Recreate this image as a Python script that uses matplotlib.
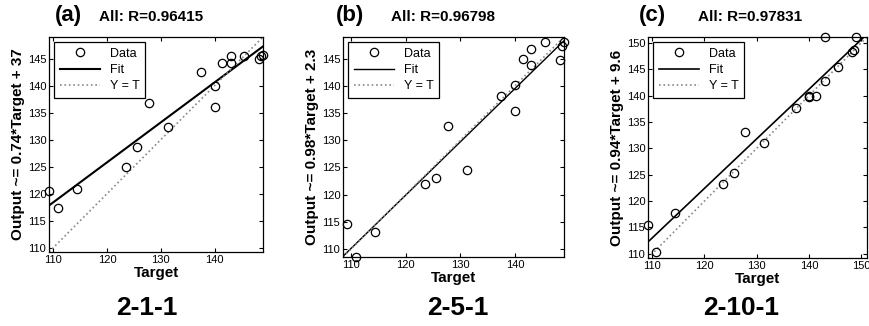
import numpy as np
import matplotlib
matplotlib.use("Agg")
import matplotlib.pyplot as plt

plt.rcParams['font.family'] = ['Liberation Sans', 'DejaVu Sans']

# targets (same for all three networks)
target = [109.2, 110.8, 114.4, 123.5, 125.6, 127.8, 131.3, 137.5, 140.0, 140.0,
          141.4, 143.0, 143.0, 145.5, 148.2, 148.7, 149.0]

# network outputs for each structure
out_a = [120.4, 117.4, 120.8, 125.0, 128.6, 136.8, 132.3, 142.5, 140.0, 136.0,
         144.2, 144.2, 145.5, 145.5, 145.0, 145.5, 145.6]
out_b = [114.6, 108.5, 113.1, 121.9, 123.1, 132.6, 124.5, 138.1, 140.2, 135.4,
         145.0, 146.7, 143.8, 148.0, 144.8, 147.3, 148.1]
out_c = [115.5, 110.4, 117.7, 123.3, 125.4, 133.1, 131.0, 137.6, 140.0, 139.8,
         140.0, 142.8, 151.1, 145.4, 148.3, 148.7, 151.1]

outputs = [out_a, out_b, out_c]
slopes = [0.74, 0.98, 0.94]
intercepts = [37, 2.3, 9.6]
r_values = ["0.96415", "0.96798", "0.97831"]
letters = ["(a)", "(b)", "(c)"]
structures = ["2-1-1", "2-5-1", "2-10-1"]

fig = plt.figure(figsize=(8.69, 3.26), dpi=100)
W, H = 869.0, 326.0

# axes boxes in pixels: left, right, top, bottom
boxes = [(49, 263, 37, 252), (343, 564, 37, 257), (648, 867, 37, 258)]
# text centres in pixels
letter_x = [68, 350, 652]
title_x = [151, 443, 750]
struct_x = [147, 458, 741]
fit_lw = [1.5, 1.0, 1.2]

for i in range(3):
    l, r, t, b = boxes[i]
    ax = fig.add_axes([l / W, 1 - b / H, (r - l) / W, (b - t) / H])
    T = np.array(target)
    Y = np.array(outputs[i])
    lo = min(T.min(), Y.min())
    hi = max(T.max(), Y.max())
    lim = np.array([lo, hi])

    ax.plot(T, Y, 'o', mfc='none', mec='black', ms=6, mew=0.9,
            label='Data', clip_on=False, zorder=3)
    ax.plot(lim, slopes[i] * lim + intercepts[i], '-', color='black',
            lw=fit_lw[i], label='Fit')
    ax.plot(lim, lim, ':', color='#888888', lw=1.2, label='Y = T')

    ax.set_xlim(lo, hi)
    ax.set_ylim(lo, hi)
    ax.set_xticks(np.arange(110, hi + 0.01, 10))
    ax.set_yticks(np.arange(110, hi + 0.01, 5))
    ax.tick_params(direction='in', top=True, right=True, labelsize=8,
                   length=3, pad=2)
    for s in ax.spines.values():
        s.set_linewidth(0.9)

    ax.set_xlabel('Target', fontsize=11, fontweight='bold', labelpad=1)
    ax.set_ylabel('Output ~= %s*Target + %s' % (slopes[i], intercepts[i]),
                  fontsize=11, fontweight='bold', labelpad=2)

    leg = ax.legend(loc='upper left', fontsize=9, handlelength=3.2,
                    fancybox=False, edgecolor='black', framealpha=1,
                    borderaxespad=0.4, labelspacing=0.35, borderpad=0.45)
    leg.get_frame().set_linewidth(0.9)

    fig.text(letter_x[i] / W, 1 - 15 / H, letters[i], fontsize=16,
             fontweight='bold', ha='center', va='center')
    fig.text(title_x[i] / W, 1 - 17 / H, 'All: R=' + r_values[i],
             fontsize=11, fontweight='bold', ha='center', va='center')
    fig.text(struct_x[i] / W, 1 - 308 / H, structures[i], fontsize=19,
             fontweight='bold', ha='center', va='center')

fig.savefig('out.png', dpi=100)
